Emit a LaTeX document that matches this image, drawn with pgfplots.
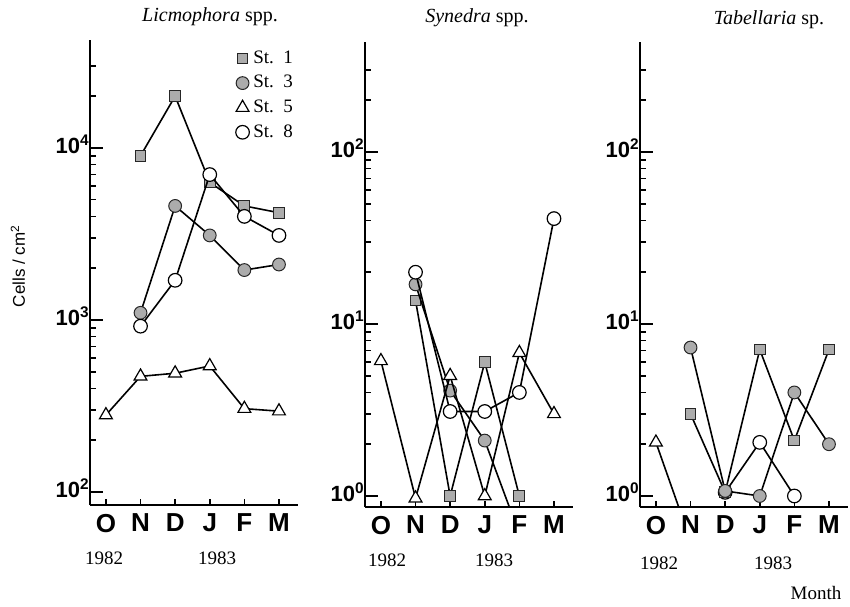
\documentclass[border=0pt]{standalone}
\usepackage{fontspec}
\setmainfont{Liberation Serif}
\setsansfont{Liberation Sans}
\usepackage{pgfplots}
\pgfplotsset{compat=1.18}

\newcommand\ylab[1]{\sffamily\bfseries 10\textsuperscript{#1}}

\pgfplotsset{
  stA/.style={black, line width=0.8pt, mark=square*, mark size=2.7pt,
    mark options={solid, fill=gray!65, draw=black!85, line width=0.5pt}},
  stB/.style={black, line width=0.8pt, mark=*, mark size=3.2pt,
    mark options={solid, fill=gray!65, draw=black!85, line width=0.5pt}},
  stC/.style={black, line width=0.8pt, mark=triangle*, mark size=3.7pt,
    mark options={solid, fill=white, draw=black, line width=0.6pt}},
  stD/.style={black, line width=0.8pt, mark=*, mark size=3.4pt,
    mark options={solid, fill=white, draw=black, line width=0.6pt}},
}

\begin{document}
% 1 px of the reference = 0.5pt; y measured from the bottom of the 606 px image
\begin{tikzpicture}
\useasboundingbox (0,0) rectangle (425pt,303pt);

% ---- Licmophora spp.
\begin{axis}[at={(45pt,50.5pt)}, anchor=south west,
  scale only axis, width=104pt, height=232.5pt,
  ymode=log, ymin=84, ymax=4.24e4,
  axis x line=bottom, axis y line=left, axis line style={-, line width=1.3pt},
  xmin=-0.46, xmax=5.55,
  xtick={0,...,5}, xticklabels={O,N,D,J,F,M},
  xticklabel style={font=\fontsize{13}{13}\selectfont\sffamily\bfseries, yshift=-1pt},
  tick align=inside, major tick length=2.8pt, minor tick length=2.8pt,
  tick style={black, line width=0.8pt},
  yticklabel style={font=\fontsize{11}{11}\selectfont, inner sep=0pt, yshift=2pt},
  ytick={100,1000,10000}, yticklabels={\ylab{2},\ylab{3},\ylab{4}},
  minor ytick={200,300,400,500,600,700,800,900,2000,3000,4000,5000,6000,7000,8000,9000,20000,30000},
  extra y ticks={100,1000,10000}, extra y tick labels={},
  extra y tick style={major tick length=6.5pt},
  clip marker paths=true,
  legend style={draw=none, fill=none, at={(0.67,0.995)}, anchor=north west,
    font=\fontsize{9.5}{9.5}\selectfont, row sep=0.5pt},
  legend cell align=left,
]
\addlegendimage{stA, only marks}
\addlegendimage{stB, only marks}
\addlegendimage{stC, only marks}
\addlegendimage{stD, only marks}
\addplot[stA] coordinates {(1,9000) (2,20000) (3,6300) (4,4600) (5,4200)};
\addplot[stB] coordinates {(1,1100) (2,4600) (3,3100) (4,1950) (5,2100)};
\addplot[stC] coordinates {(0,280) (1,470) (2,490) (3,540) (4,305) (5,295)};
\addplot[stD] coordinates {(1,920) (2,1700) (3,7000) (4,4000) (5,3100)};
\legend{St.\ \ 1, St.\ \ 3, St.\ \ 5, St.\ \ 8}
\end{axis}

% ---- Synedra spp.
\begin{axis}[at={(182.5pt,49.5pt)}, anchor=south west,
  scale only axis, width=104pt, height=232.5pt,
  ymode=log, ymin=0.863, ymax=436,
  axis x line=bottom, axis y line=left, axis line style={-, line width=1.3pt},
  xmin=-0.46, xmax=5.55,
  xtick={0,...,5}, xticklabels={O,N,D,J,F,M},
  xticklabel style={font=\fontsize{13}{13}\selectfont\sffamily\bfseries, yshift=-1pt},
  tick align=inside, major tick length=2.8pt, minor tick length=2.8pt,
  tick style={black, line width=0.8pt},
  yticklabel style={font=\fontsize{11}{11}\selectfont, inner sep=0pt, yshift=2pt},
  ytick={1,10,100}, yticklabels={\ylab{0},\ylab{1},\ylab{2}},
  minor ytick={2,3,4,5,6,7,8,9,20,30,40,50,60,70,80,90,200,300},
  extra y ticks={1,10,100}, extra y tick labels={},
  extra y tick style={major tick length=6.5pt},
  clip marker paths=true,
]
\addplot[stA] coordinates {(1,13.7) (2,1.0) (3,6.0) (4,1.0)};
\addplot[stB] coordinates {(1,17) (2,4.1) (3,2.1) (4,0.6)};
\addplot[stC] coordinates {(0,6.1) (1,0.97) (2,5.0) (3,1.0) (4,6.8) (5,3.0)};
\addplot[stD] coordinates {(1,20) (2,3.1) (3,3.1) (4,4.0) (5,41)};
\end{axis}

% ---- Tabellaria sp.
\begin{axis}[at={(320pt,49.5pt)}, anchor=south west,
  scale only axis, width=104pt, height=232.5pt,
  ymode=log, ymin=0.863, ymax=436,
  axis x line=bottom, axis y line=left, axis line style={-, line width=1.3pt},
  xmin=-0.46, xmax=5.55,
  xtick={0,...,5}, xticklabels={O,N,D,J,F,M},
  xticklabel style={font=\fontsize{13}{13}\selectfont\sffamily\bfseries, yshift=-1pt},
  tick align=inside, major tick length=2.8pt, minor tick length=2.8pt,
  tick style={black, line width=0.8pt},
  yticklabel style={font=\fontsize{11}{11}\selectfont, inner sep=0pt, yshift=2pt},
  ytick={1,10,100}, yticklabels={\ylab{0},\ylab{1},\ylab{2}},
  minor ytick={2,3,4,5,6,7,8,9,20,30,40,50,60,70,80,90,200,300},
  extra y ticks={1,10,100}, extra y tick labels={},
  extra y tick style={major tick length=6.5pt},
  clip marker paths=true,
]
\addplot[stC] coordinates {(0,2.05) (1,0.55)};
\addplot[stD] coordinates {(2,1.05) (3,2.05) (4,1.0)};
\addplot[stA] coordinates {(1,3.0) (2,1.05) (3,7.1) (4,2.1) (5,7.1)};
\addplot[stB] coordinates {(1,7.3) (2,1.07) (3,1.0) (4,4.0) (5,2.0)};
\end{axis}

% titles and labels
\node[font=\fontsize{10}{10}\selectfont] at (105pt,294.5pt) {\textit{Licmophora} spp.};
\node[font=\fontsize{10}{10}\selectfont] at (238.5pt,294pt) {\textit{Synedra} spp.};
\node[font=\fontsize{10}{10}\selectfont] at (384.5pt,293pt) {\textit{Tabellaria} sp.};
\node[rotate=90, font=\fontsize{8.5}{8.5}\selectfont\sffamily] at (9pt,170pt) {Cells / cm\textsuperscript{2}};
\foreach \a/\b/\yy in {52/108.5/24, 193.5/247/23, 329.5/386.5/21.5}{
  \node[font=\fontsize{9.5}{9.5}\selectfont] at (\a pt,\yy pt) {1982};
  \node[font=\fontsize{9.5}{9.5}\selectfont] at (\b pt,\yy pt) {1983};
}
\node[font=\fontsize{9.5}{9.5}\selectfont] at (408pt,6.5pt) {Month};
\end{tikzpicture}
\end{document}
